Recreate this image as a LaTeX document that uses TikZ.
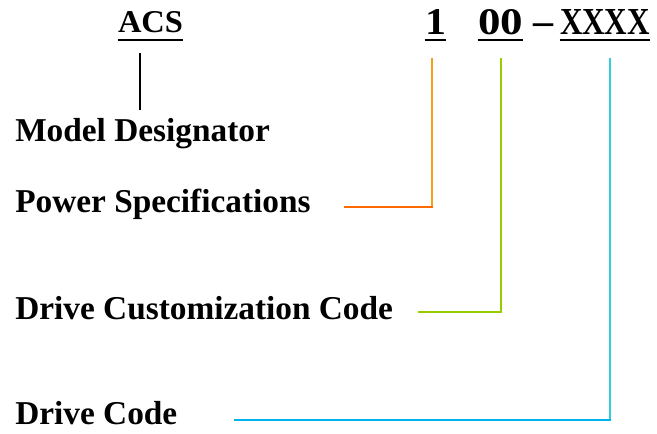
\documentclass[tikz,border=0pt]{standalone}
\usepackage{fontspec}
\usepackage{graphicx}
\setmainfont{Liberation Serif}
\definecolor{orgV}{HTML}{F9A01B}
\definecolor{orgH}{HTML}{FF6A00}
\definecolor{grnV}{HTML}{99CC00}
\definecolor{cynV}{HTML}{33CCDD}
\definecolor{cynH}{HTML}{00B4F0}
\begin{document}
\begin{tikzpicture}[x=0.75pt,y=-0.75pt,
  lbl/.style={anchor=base west,inner sep=0pt,font=\fontsize{25}{30}\selectfont\bfseries},
  hdr/.style={anchor=base,inner sep=0pt,font=\fontsize{27}{32}\selectfont\bfseries},
  uline/.style={line width=1.5pt},
  conn/.style={line width=2.2pt}]
\useasboundingbox (0,0) rectangle (657,434);
% header
\node[hdr] (acs) at (150.5,33) {\resizebox{48.75pt}{15.75pt}{ACS}};
\node[hdr] (one) at (435.5,35) {\resizebox{15.75pt}{18.75pt}{1}};
\node[hdr] (zz) at (500.5,35) {\resizebox{33.75pt}{18.75pt}{00}};
\node[hdr] (dash) at (543,35) {\resizebox{15pt}{!}{–}};
\node[hdr] (xx) at (605,35) {\resizebox{67.5pt}{18.75pt}{XXXX}};
\draw[uline] ([yshift=-5.3pt]acs.base west) -- ([yshift=-5.3pt]acs.base east);
\draw[uline] ([yshift=-3.4pt]one.base west) -- ([yshift=-3.4pt]one.base east);
\draw[uline] ([yshift=-3.4pt]zz.base west) -- ([yshift=-3.4pt]zz.base east);
\draw[uline] ([yshift=-3.4pt]xx.base west) -- ([yshift=-3.4pt]xx.base east);
% labels
\node[lbl] (md) at (15,142) {Model Designator};
\node[lbl] (ps) at (15,213) {Power Specifications};
\node[lbl] (dcc) at (15,320) {Drive Customization Code};
\node[lbl] (dc) at (15,425) {Drive Code};
% connector points
\coordinate (mdT) at (140,53);
\coordinate (mdB) at (140,110);
\coordinate (oT) at (432,58);
\coordinate (oC) at (432,207);
\coordinate (oE) at (345,207);
\coordinate (gT) at (501,58);
\coordinate (gC) at (501,312);
\coordinate (gE) at (418,312);
\coordinate (cT) at (610,58);
\coordinate (cC) at (610,420);
\coordinate (cE) at (235,420);
\draw[line width=1.6pt] (mdT) -- (mdB);
\draw[conn,orgV] (oT) -- (oC);
\draw[conn,orgH,line cap=rect] (oC) -- (oE);
\draw[conn,grnV] (gT) -- (gC) -- (gE);
\draw[conn,cynV] (cT) -- (cC);
\draw[conn,cynH,line cap=rect] (cC) -- (cE);
\end{tikzpicture}
\end{document}
